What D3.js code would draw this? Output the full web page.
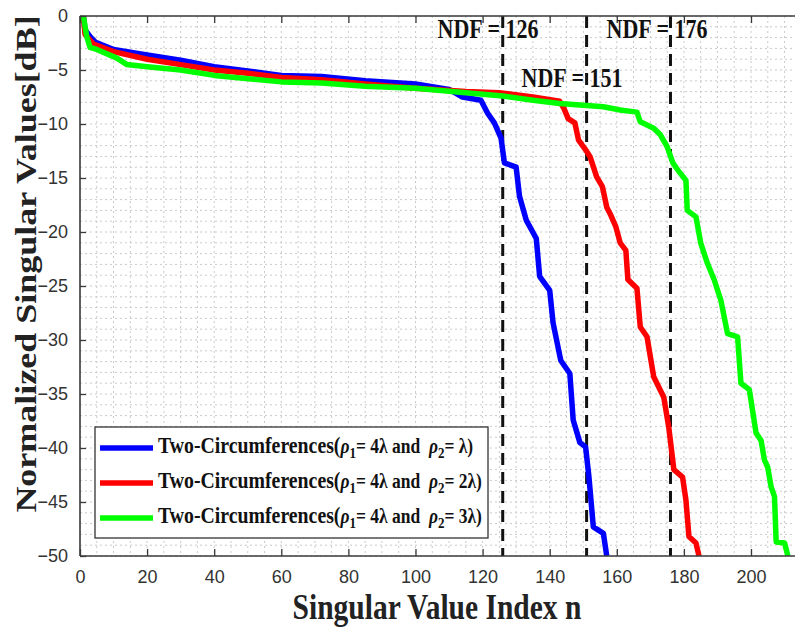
<!DOCTYPE html>
<html><head><meta charset="utf-8">
<script src="https://cdn.jsdelivr.net/npm/d3@7"></script>
<style>body{margin:0;background:#fff;}svg{display:block;}</style>
</head><body>
<svg id="chart" width="795" height="633"></svg>
<script>
// ---- data ----
const xTicks = [0,20,40,60,80,100,120,140,160,180,200];
const yTicks = [0,-5,-10,-15,-20,-25,-30,-35,-40,-45,-50];
const ndfValues = [126,151,176];
const ndfLabels = ["NDF = 126","NDF = 151","NDF = 176"];
const seriesRho2 = ["λ","2λ","3λ"];
const seriesColors = ["#0000ff","#ff0000","#00ff00"];

const blueN = [1,1.5,3,4.5,10,20,30,40,50,60,72,85,100,110,114,119.5,121.5,123.5,125.5,126.5,130,131,133,136,137,140,141,143.3,146,147,149,150.7,151.7,153,156,157];
const blueV = [0,-1.3,-1.9,-2.4,-3.1,-3.6,-4.1,-4.7,-5.1,-5.5,-5.6,-6.0,-6.3,-6.8,-7.5,-7.8,-9.0,-9.9,-11.3,-13.6,-14.0,-16.7,-18.9,-20.6,-24.1,-25.4,-28.4,-31.9,-33.1,-37.4,-39.5,-39.9,-42.7,-47.3,-47.9,-50];

const redN = [1,1.5,4,10,20,30,40,50,60,72,85,100,115,125,135,143,144.3,145.5,147.5,148.6,150.5,152,154,155.7,157,158,159.7,161,162.7,163.3,166,167,169,171,174,175.5,177,179.6,180.6,181.5,183.6,184.5];
const redV = [0,-1.7,-2.6,-3.3,-4.0,-4.5,-5.0,-5.3,-5.7,-5.9,-6.3,-6.7,-7.0,-7.1,-7.5,-7.9,-8.6,-9.5,-9.9,-11.5,-12.3,-13.0,-14.9,-15.8,-17.7,-18.3,-19.5,-21.0,-21.7,-24.4,-25.2,-28.8,-29.7,-33.4,-35.3,-38.1,-42.0,-42.7,-44.8,-48.2,-48.8,-50];

const greenN = [1,2,3,5,11,14,20,30,40,60,72,85,100,115,126,135,143,156,161,166,167,171,173,175,176.7,178.5,180.6,181,183.6,185,187,189,191,193,196,197,199.5,201.5,203,204,205,206,207,207.5,210,211];
const greenV = [0,-1.9,-2.9,-3.1,-3.9,-4.5,-4.7,-5.0,-5.5,-6.1,-6.2,-6.5,-6.7,-7.1,-7.4,-7.8,-8.1,-8.4,-8.7,-8.9,-9.8,-10.4,-11.0,-12.1,-13.6,-14.4,-15.2,-18.0,-18.6,-21.0,-22.9,-24.4,-26.3,-29.4,-29.7,-34.0,-34.6,-38.6,-39.3,-41.1,-41.8,-43.6,-44.5,-48.7,-48.8,-50];

const series = [
  {n: blueN, v: blueV},
  {n: redN, v: redV},
  {n: greenN, v: greenV}
];

// ---- layout ----
const svg = d3.select("#chart");
const L = 80, T = 16, B = 556;
const x = d3.scaleLinear().domain([0,214]).range([L, L + 214*3.355]);
const y = d3.scaleLinear().domain([-50,0]).range([B, T]);
const R = 795;

svg.append("defs").append("clipPath").attr("id","clip")
  .append("rect").attr("x",L).attr("y",T).attr("width",R-L).attr("height",B-T);

// grid
const grid = svg.append("g");
const gx = d3.range(0,215,5), gy = d3.range(-50,1,1);
grid.selectAll("line.gx").data(gx).enter().append("line")
  .attr("x1",d=>x(d)).attr("x2",d=>x(d)).attr("y1",T).attr("y2",B)
  .attr("stroke","#cacaca").attr("stroke-width",1).attr("stroke-dasharray","2,3");
grid.selectAll("line.gy").data(gy).enter().append("line")
  .attr("y1",d=>y(d)).attr("y2",d=>y(d)).attr("x1",L).attr("x2",R)
  .attr("stroke","#cacaca").attr("stroke-width",1).attr("stroke-dasharray","2,3");

// NDF dashed lines
svg.selectAll("line.ndf").data(ndfValues).enter().append("line")
  .attr("x1",d=>x(d)).attr("x2",d=>x(d)).attr("y1",T).attr("y2",B)
  .attr("stroke","#111").attr("stroke-width",3).attr("stroke-dasharray","12,7");

// curves
const line = d3.line().x(d=>x(d[0])).y(d=>y(d[1]));
const cg = svg.append("g").attr("clip-path","url(#clip)");
series.forEach((s,i)=>{
  const pts = s.n.map((n,j)=>[n, s.v[j]]);
  cg.append("path").datum(pts).attr("d",line).attr("fill","none")
    .attr("stroke",seriesColors[i]).attr("stroke-width",5.5)
    .attr("stroke-linejoin","round");
});

// axes box
const axC = "#3a3a3a";
svg.append("line").attr("x1",L).attr("x2",R).attr("y1",T).attr("y2",T).attr("stroke",axC).attr("stroke-width",1.6);
svg.append("line").attr("x1",L).attr("x2",R).attr("y1",B).attr("y2",B).attr("stroke",axC).attr("stroke-width",1.6);
svg.append("line").attr("x1",L).attr("x2",L).attr("y1",T).attr("y2",B).attr("stroke",axC).attr("stroke-width",1.6);

// bottom axis
const xAxis = d3.axisBottom(x).tickValues(xTicks).tickSizeInner(-7).tickSizeOuter(0).tickPadding(14).tickFormat(d3.format("d"));
const gxA = svg.append("g").attr("transform",`translate(0,${B})`).call(xAxis);
gxA.select(".domain").remove();
gxA.selectAll(".tick line").attr("stroke",axC).attr("stroke-width",1.3);
gxA.selectAll(".tick text").attr("font-family","'Liberation Sans',Arial,sans-serif").attr("font-size",18).attr("fill","#333");

const xAxisTop = d3.axisTop(x).tickValues(xTicks).tickSizeInner(-7).tickSizeOuter(0).tickFormat("");
const gxT = svg.append("g").attr("transform",`translate(0,${T})`).call(xAxisTop);
gxT.select(".domain").remove();
gxT.selectAll(".tick line").attr("stroke",axC).attr("stroke-width",1.3);

const yAxis = d3.axisLeft(y).tickValues(yTicks).tickSizeInner(-6).tickSizeOuter(0).tickPadding(12).tickFormat(d3.format("d"));
const gyA = svg.append("g").attr("transform",`translate(${L},0)`).call(yAxis);
gyA.select(".domain").remove();
gyA.selectAll(".tick line").attr("stroke",axC).attr("stroke-width",1.3);
gyA.selectAll(".tick text").attr("font-family","'Liberation Sans',Arial,sans-serif").attr("font-size",18).attr("fill","#333");

// NDF labels
const ndfPos = [[488,38],[572,87],[657,38]];
svg.selectAll("text.ndf").data(ndfLabels).enter().append("text")
  .attr("transform",(d,i)=>`translate(${ndfPos[i][0]},${ndfPos[i][1]}) scale(1,1.2)`)
  .attr("text-anchor","middle").attr("font-family","'Liberation Serif','Times New Roman',serif")
  .attr("font-weight","bold").attr("font-size",22).attr("fill","#111").text(d=>d);

// axis titles
svg.append("text").attr("transform",`translate(437,619) scale(1,1.2)`)
  .attr("text-anchor","middle").attr("font-family","'Liberation Serif','Times New Roman',serif")
  .attr("font-weight","bold").attr("font-size",29.5).attr("fill","#222").text("Singular Value Index n");
svg.append("text").attr("transform",`translate(36,264) rotate(-90) scale(1.2,1)`)
  .attr("text-anchor","middle").attr("font-family","'Liberation Serif','Times New Roman',serif")
  .attr("font-weight","bold").attr("font-size",30).attr("fill","#222").text("Normalized Singular Values[dB]");

// legend
const lg = svg.append("g");
lg.append("rect").attr("x",95).attr("y",427).attr("width",393).attr("height",111)
  .attr("fill","#fff").attr("stroke","#333").attr("stroke-width",1.3);
seriesColors.forEach((c,i)=>{
  const yy = 448 + i*35;
  lg.append("line").attr("x1",100).attr("x2",153).attr("y1",yy).attr("y2",yy)
    .attr("stroke",c).attr("stroke-width",5.5);
  const t = lg.append("text").attr("transform",`translate(158,${yy+5}) scale(1,1.2)`)
    .attr("font-family","'Liberation Serif','Times New Roman',serif").attr("font-weight","bold")
    .attr("font-size",17.5).attr("fill","#111");
  t.append("tspan").attr("font-size",19.8).text("Two-Circumferences(");
  t.append("tspan").attr("font-style","italic").text("ρ");
  t.append("tspan").attr("font-size",13).attr("dy",4).text("1");
  t.append("tspan").attr("dy",-4).text("= 4λ and\u00A0\u00A0");
  t.append("tspan").attr("font-style","italic").text("ρ");
  t.append("tspan").attr("font-size",13).attr("dy",4).text("2");
  t.append("tspan").attr("dy",-4).text("= " + seriesRho2[i] + ")");
});
</script>
</body></html>
